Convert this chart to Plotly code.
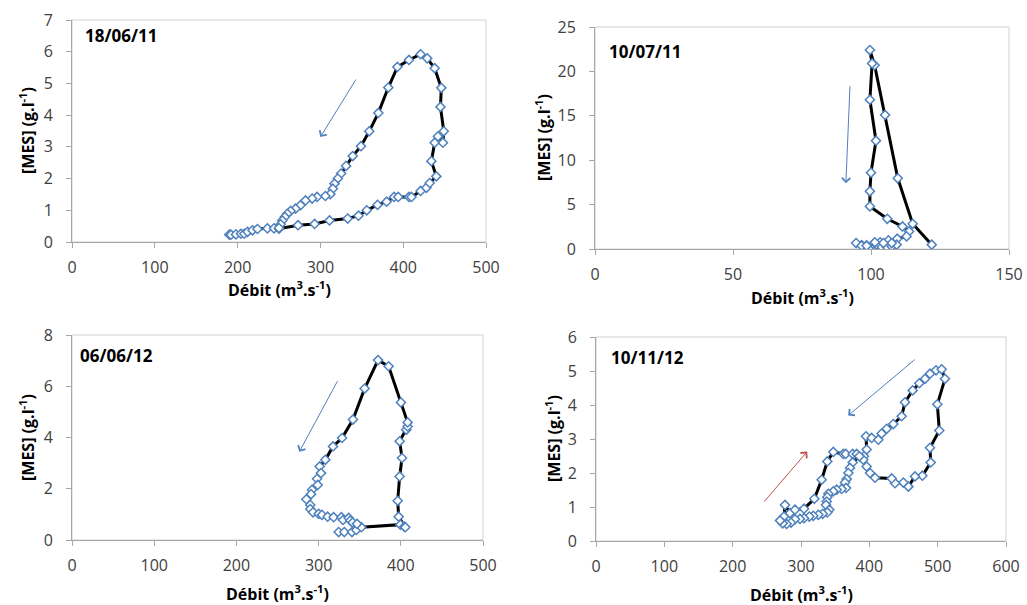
import plotly.graph_objects as go

# ---------------- data ----------------
q_180611 = [190, 192, 198, 204, 208, 212, 218, 224, 236, 244, 250, 273, 293, 311, 333, 346, 356, 369, 380, 389,
            394, 407, 410, 421, 428, 432, 440, 434, 438, 442, 448, 449, 445, 446, 438, 429, 421, 407, 393, 382,
            370, 359, 349, 339, 331, 325, 321, 317, 315, 312, 306, 296, 290, 282, 276, 270, 264, 260, 257, 254,
            252, 250]
c_180611 = [0.23, 0.23, 0.24, 0.26, 0.26, 0.32, 0.37, 0.41, 0.43, 0.43, 0.42, 0.53, 0.57, 0.68, 0.74, 0.83, 1.0, 1.17, 1.27, 1.42,
            1.42, 1.42, 1.42, 1.61, 1.71, 1.86, 2.07, 2.55, 3.13, 3.33, 3.13, 3.49, 4.26, 4.86, 5.48, 5.79, 5.92, 5.74, 5.52, 4.87,
            4.07, 3.49, 3.02, 2.71, 2.40, 2.16, 2.0, 1.84, 1.68, 1.51, 1.45, 1.42, 1.37, 1.31, 1.16, 1.05, 0.98, 0.89, 0.79, 0.68,
            0.56, 0.44]

q_100711 = [122, 115.1, 109.7, 105.1, 101.3, 99.6, 100.4, 99.6, 101.8, 100.0, 99.6, 99.6, 105.9, 111.4, 113.8, 112.9,
            109.5, 106.3, 103.3, 100.8, 98.4, 96.6, 94.6, 96.6, 98.4, 102.0, 103.9, 105.7, 107.5, 109.3, 107.5, 104.5, 101.4]
c_100711 = [0.49, 2.84, 7.96, 15.1, 20.7, 22.4, 20.9, 16.8, 12.2, 8.6, 6.5, 4.8, 3.4, 2.54, 1.98, 1.42,
            1.16, 0.97, 0.75, 0.56, 0.40, 0.45, 0.67, 0.37, 0.37, 0.49, 0.22, 0.22, 0.30, 0.49, 0.67, 0.67, 0.75]

q_060612 = [324.4, 331.3, 340.6, 345.9, 352, 399.4, 404.3, 405.5, 397.4, 396.2, 398.6, 401.5, 398.6, 406.7, 408.3, 408.3,
            400.2, 385.2, 372.3, 356.0, 341.8, 328.5, 317.5, 308.2, 301.3, 302.9, 298.1, 298.9, 292, 290.8, 285.1,
            289.9, 289.9, 293.2, 300.1, 304.1, 311, 318.3, 327.7, 329.7, 336.6, 338.6, 341.4, 346.7]
c_060612 = [0.31, 0.31, 0.31, 0.39, 0.50, 0.60, 0.52, 0.50, 0.91, 1.53, 2.48, 3.20, 3.85, 4.30, 4.43, 4.59,
            5.37, 6.78, 7.02, 5.91, 4.70, 3.98, 3.65, 3.13, 2.87, 2.61, 2.39, 2.15, 1.96, 1.79, 1.59,
            1.37, 1.21, 1.08, 1.02, 0.98, 0.91, 0.89, 0.89, 0.78, 0.86, 0.76, 0.68, 0.63]

q_101112 = [270.7, 275.1, 276.6, 283.9, 291.2, 304.4, 319.5, 330.2, 338.5, 347.3, 361.9, 365.4, 375.6, 381.5, 392.2,
            396.1, 395.1, 403.4, 413.2, 418, 425.4, 435.1, 447.3, 452.2, 463.4, 473.2, 481.5, 488.8, 497.6, 505.9,
            510.7, 499.5, 502.4, 488.8, 489.8, 477.6, 466.8, 457.1, 449.8, 437.6, 432.7, 408.3, 401, 396.1, 391.2,
            385.4, 375.6, 371.7, 369.3, 366.8, 364.4, 365.9, 359.5, 352.2, 347.3, 340, 338.5, 337.6, 336.6, 341.5,
            338.5, 331.7, 325.4, 318, 312.2, 304.4, 298.5, 291.2, 285.4, 279, 273.2, 269.3]
c_101112 = [0.62, 0.72, 1.06, 0.82, 0.92, 0.95, 1.24, 1.80, 2.34, 2.62, 2.56, 2.56, 2.56, 2.56, 2.49,
            2.69, 3.08, 3.03, 2.98, 3.16, 3.30, 3.44, 3.67, 4.08, 4.43, 4.64, 4.77, 4.92, 5.02, 5.05,
            4.77, 4.02, 3.25, 2.74, 2.31, 1.92, 1.90, 1.60, 1.72, 1.70, 1.84, 1.86, 2.0, 2.19, 2.39,
            2.49, 2.31, 2.15, 2.0, 1.82, 1.72, 1.56, 1.53, 1.51, 1.46, 1.39, 1.29, 1.16, 1.06, 0.92,
            0.84, 0.80, 0.77, 0.74, 0.72, 0.67, 0.65, 0.64, 0.54, 0.50, 0.52, 0.60]

dates = ["18/06/11", "10/07/11", "06/06/12", "10/11/12"]
x_ranges = [[0, 500], [0, 150], [0, 500], [0, 600]]
y_ranges = [[0, 7], [0, 25], [0, 8], [0, 6]]
x_dticks = [100, 50, 100, 100]
y_dticks = [1, 5, 2, 1]

series = [(q_180611, c_180611), (q_100711, c_100711), (q_060612, c_060612), (q_101112, c_101112)]

# arrows: (panel, tail_x, tail_y, head_x, head_y, colour)
arrows = [
    (0, 344, 5.17, 300, 3.31, "#4F81BD"),
    (1, 92.4, 18.5, 90.9, 7.4, "#4F81BD"),
    (2, 324, 6.26, 276.5, 3.44, "#4F81BD"),
    (3, 468.5, 5.37, 369, 3.69, "#4F81BD"),
    (3, 244.5, 1.12, 309, 2.63, "#C0504D"),
]

# ---------------- layout ----------------
W, H = 1027, 605


def fx(px):
    return px / W


def fy(py):
    return 1 - py / H


boxes = [  # left, top, right, bottom in window pixels
    (72, 20, 486, 242),
    (595, 27, 1009, 249),
    (72, 335, 483, 540),
    (596, 337, 1006, 541),
]

FONT = "Open Sans"
fig = go.Figure()
annotations = []
shapes = []
layout = dict(
    width=W, height=H, margin=dict(l=0, r=0, t=0, b=0, pad=0, autoexpand=False),
    paper_bgcolor="white", plot_bgcolor="white", showlegend=False,
    font=dict(family=FONT, size=16, color="#404040"),
)

ytitle_pos = [(27, 131), (543, 138), (27, 438), (553, 439)]
xtitle_pos = [(279, 289), (802, 297), (277, 593), (801, 594)]
date_pos = [(83, 36), (607, 52), (78, 355), (609, 357)]

for i, ((q, c), (l, t, r, b)) in enumerate(zip(series, boxes)):
    n = "" if i == 0 else str(i + 1)
    xa, ya = "x" + n, "y" + n
    fig.add_trace(go.Scatter(
        x=q, y=c, xaxis=xa, yaxis=ya, mode="lines+markers",
        line=dict(color="black", width=3),
        marker=dict(symbol="diamond", size=7, color="white",
                    line=dict(color="#4F81BD", width=1.5)),
        hoverinfo="x+y",
    ))
    axis_common = dict(showgrid=False, zeroline=False, showline=True, automargin=False,
                       linecolor="#A6A6A6", linewidth=1, ticks="outside",
                       ticklen=5, tickcolor="#A6A6A6",
                       tickfont=dict(family=FONT, size=16, color="#404040"))
    layout["xaxis" + n] = dict(axis_common, domain=[fx(l), fx(r)], range=x_ranges[i],
                               dtick=x_dticks[i], tick0=0, anchor=ya, ticklabelstandoff=6)
    layout["yaxis" + n] = dict(axis_common, domain=[fy(b), fy(t)], range=y_ranges[i],
                               dtick=y_dticks[i], tick0=0, anchor=xa, ticklabelstandoff=10)
    shapes.append(dict(type="rect", xref=xa + " domain", yref=ya + " domain",
                       x0=0, x1=1, y0=0, y1=1, line=dict(color="#D0D0D0", width=1),
                       layer="below"))
    # axis titles
    yx, yy = ytitle_pos[i]
    annotations.append(dict(text="<b>[MES] (g.l<sup>-1</sup>)</b>", xref="paper", yref="paper",
                            x=fx(yx), y=fy(yy), textangle=-90, showarrow=False,
                            xanchor="center", yanchor="middle",
                            font=dict(family=FONT, size=16, color="black")))
    xx, xy = xtitle_pos[i]
    annotations.append(dict(text="<b>Débit (m<sup>3</sup>.s<sup>-1</sup>)</b>", xref="paper", yref="paper",
                            x=fx(xx), y=fy(xy), showarrow=False,
                            xanchor="center", yanchor="middle",
                            font=dict(family=FONT, size=16, color="black")))
    dx, dy = date_pos[i]
    annotations.append(dict(text="<b>" + dates[i] + "</b>", xref="paper", yref="paper",
                            x=fx(dx), y=fy(dy), showarrow=False,
                            xanchor="left", yanchor="middle",
                            font=dict(family=FONT, size=17, color="black")))

for (p, tx, ty, hx, hy, col) in arrows:
    n = "" if p == 0 else str(p + 1)
    annotations.append(dict(text="", x=hx, y=hy, ax=tx, ay=ty,
                            xref="x" + n, yref="y" + n, axref="x" + n, ayref="y" + n,
                            showarrow=True, arrowhead=4, arrowsize=1.6, arrowwidth=1,
                            arrowcolor=col, standoff=0))

layout["annotations"] = annotations
layout["shapes"] = shapes
fig.update_layout(**layout)
fig.write_html("out.html", config={"displayModeBar": False},
               post_script="document.body.style.margin='0';document.body.style.overflow='hidden';")
